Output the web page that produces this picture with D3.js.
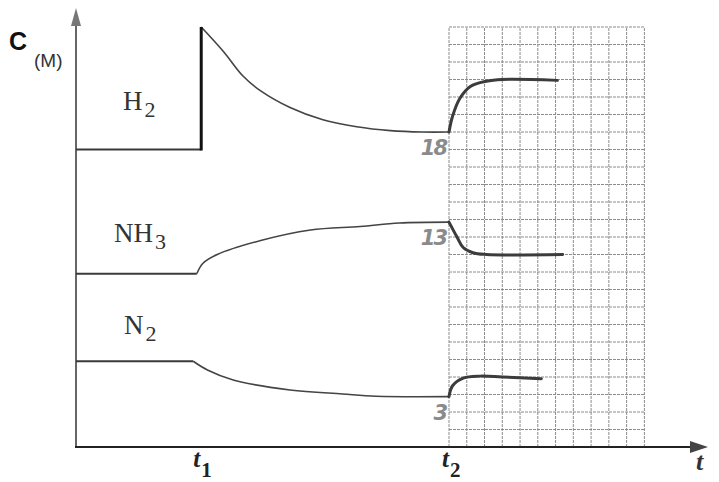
<!DOCTYPE html>
<html>
<head>
    <title>C vs t</title>
    <script src="https://d3js.org/d3.v7.min.js"></script>
    <style>
        body { margin: 0; background: #fff; }
    </style>
</head>
<body>
    <svg width="719" height="482" id="mainSvg"></svg>
    <script>
        // time marks and grid extent (arbitrary time units)
        const t1 = 7.05, t2 = 21, gridEnd = 32, cMax = 24;

        // concentration (M)
        const h2Before = [[0, 17], [t1, 17]];
        const h2Jump = [17, 24];
        const h2Shift = [[t1, 24], [8.3, 22.6], [9.4, 21.2], [10.4, 20.35], [12.05, 19.4], [13.9, 18.7], [15.8, 18.3], [17.7, 18.08], [19.5, 18], [t2, 18]];
        const h2After = [[t2, 18], [21.2, 18.9], [21.6, 19.9], [22.2, 20.6], [23.1, 20.9], [24, 21], [27.1, 20.95]];

        const nh3Before = [[0, 9.9], [6.8, 9.9]];
        const nh3Shift = [[6.8, 9.9], [7.15, 10.5], [7.95, 11.0], [10.4, 11.8], [13.2, 12.4], [16, 12.6], [18.2, 12.8], [t2, 12.85]];
        const nh3After = [[t2, 12.85], [21.45, 12.0], [21.8, 11.4], [22.35, 11.1], [23.1, 11.0], [27.4, 11.0]];

        const n2Before = [[0, 4.9], [6.6, 4.9]];
        const n2Shift = [[6.6, 4.9], [7.4, 4.4], [8.85, 3.83], [12.05, 3.26], [15, 3.03], [16.9, 2.9], [t2, 2.88]];
        const n2After = [[t2, 2.88], [21.2, 3.5], [21.8, 3.94], [22.75, 4.05], [24, 4.0], [26.2, 3.9]];

        // hand-written values at t2
        const notes = [["18", 18], ["13", 12.85], ["3", 2.88]];

        const svg = d3.select('#mainSvg');
        const x = d3.scaleLinear().domain([0, t2]).range([76, 449]);
        const y = d3.scaleLinear().domain([0, cMax]).range([447, 27]);

        // grid after t2
        const grid = svg.append("g").attr("stroke", "#8c8c8c").attr("stroke-width", 1)
            .attr("stroke-dasharray", "3,1");
        grid.selectAll(".v").data(d3.range(t2, gridEnd + 1)).join("line")
            .attr("x1", d => x(d)).attr("x2", d => x(d))
            .attr("y1", y(0)).attr("y2", y(cMax));
        grid.selectAll(".h").data(d3.range(0, cMax + 1)).join("line")
            .attr("x1", x(t2)).attr("x2", x(gridEnd))
            .attr("y1", d => y(d)).attr("y2", d => y(d));

        // axes
        svg.append("line").attr("x1", x(0)).attr("x2", x(0))
            .attr("y1", y(0)).attr("y2", 18)
            .attr("stroke", "#666").attr("stroke-width", 2);
        svg.append("path").attr("d", `M${x(0) - 5},26 L${x(0)},8 L${x(0) + 5},26 Z`).attr("fill", "#777");
        svg.append("line").attr("x1", x(0) - 1).attr("x2", 695)
            .attr("y1", y(0)).attr("y2", y(0))
            .attr("stroke", "#222").attr("stroke-width", 2);
        svg.append("path").attr("d", `M690,${y(0) - 6} L708,${y(0)} L690,${y(0) + 6} Z`).attr("fill", "#444");

        const line = d3.line().x(d => x(d[0])).y(d => y(d[1])).curve(d3.curveCatmullRom.alpha(0.5));

        const flat = [h2Before, nh3Before, n2Before];
        const shifts = [h2Shift, nh3Shift, n2Shift];
        const afters = [h2After, nh3After, n2After];

        svg.selectAll(".flat").data(flat).join("path")
            .attr("d", line).attr("fill", "none")
            .attr("stroke", "#3a3a3a").attr("stroke-width", 2.2);
        svg.selectAll(".shift").data(shifts).join("path")
            .attr("d", line).attr("fill", "none")
            .attr("stroke", "#444").attr("stroke-width", 1.6);
        svg.selectAll(".after").data(afters).join("path")
            .attr("d", line).attr("fill", "none")
            .attr("stroke", "#3c3c3c").attr("stroke-width", 3).attr("stroke-linecap", "round");

        // H2 sudden addition at t1
        svg.append("line").attr("x1", x(t1)).attr("x2", x(t1))
            .attr("y1", y(h2Jump[0]) + 1).attr("y2", y(h2Jump[1]))
            .attr("stroke", "#111").attr("stroke-width", 3);

        // species labels
        const serif = "'Liberation Serif', 'DejaVu Serif', serif";
        const species = [["H", "2", 123, 110], ["NH", "3", 114, 242], ["N", "2", 124, 334]];
        species.forEach(s => {
            const t = svg.append("text").attr("x", s[2]).attr("y", s[3])
                .attr("font-family", serif).attr("font-size", 27).attr("fill", "#333");
            t.append("tspan").text(s[0]);
            t.append("tspan").attr("dx", 2).attr("dy", 7).attr("font-size", 22).text(s[1]);
        });

        // axis titles
        svg.append("text").attr("x", 9).attr("y", 50).attr("font-family", "'Liberation Sans', Arial, sans-serif")
            .attr("font-size", 25).attr("font-weight", "bold").attr("fill", "#111").text("C");
        svg.append("text").attr("x", 34).attr("y", 67).attr("font-family", "'Liberation Sans', Arial, sans-serif")
            .attr("font-size", 19).attr("fill", "#333").text("(M)");

        const tLabels = [["1", x(t1) - 8], ["2", x(t2) - 7]];
        tLabels.forEach(l => {
            const t = svg.append("text").attr("x", l[1]).attr("y", 467)
                .attr("font-family", serif).attr("font-style", "italic").attr("font-weight", "bold")
                .attr("font-size", 25).attr("fill", "#222");
            t.append("tspan").text("t");
            t.append("tspan").attr("dx", 1).attr("dy", 10).attr("font-style", "normal").attr("font-size", 21).text(l[0]);
        });
        svg.append("text").attr("x", 696).attr("y", 470)
            .attr("font-family", serif).attr("font-style", "italic").attr("font-weight", "bold")
            .attr("font-size", 26).attr("fill", "#333").text("t");

        // pencil notes
        svg.selectAll(".note").data(notes).join("text")
            .attr("x", x(t2) - 3).attr("y", d => y(d[1]) + 23)
            .attr("text-anchor", "end").attr("letter-spacing", -2)
            .attr("font-family", "'DejaVu Sans', sans-serif").attr("font-style", "italic").attr("font-weight", "bold")
            .attr("font-size", 21).attr("fill", "#8a8a8a")
            .text(d => d[0]);
    </script>
</body>
</html>
